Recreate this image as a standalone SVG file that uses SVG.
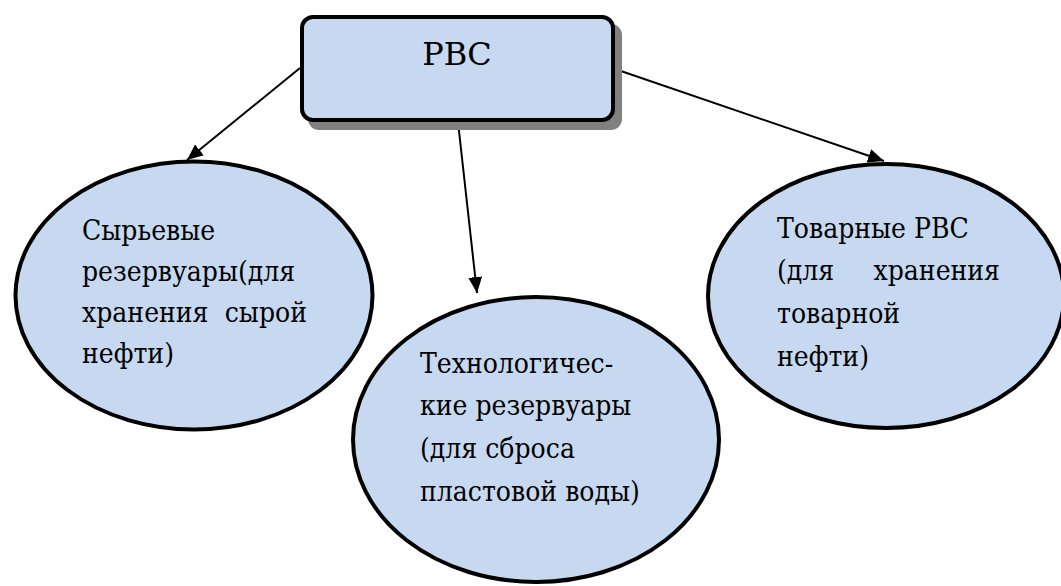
<svg xmlns="http://www.w3.org/2000/svg" width="1061" height="586" viewBox="0 0 1061 586">
<style>
.shape{fill:#C6D9F0;stroke:#000;stroke-width:4}
.conn{stroke:#000;stroke-width:2;fill:none;marker-end:url(#arrow)}
.t{font-family:'DejaVu Serif Condensed','DejaVu Serif',serif;font-stretch:condensed;font-size:28px;fill:#000}
.title{font-family:'DejaVu Serif',serif;font-size:32px;fill:#000}
</style>
<defs>
<marker id="arrow" viewBox="0 0 16 14" refX="16" refY="7" markerWidth="16" markerHeight="14" markerUnits="userSpaceOnUse" orient="auto">
<path d="M0,0 L16,7 L0,14 z" fill="#000"/>
</marker>
</defs>
<rect width="1061" height="586" fill="#fff"/>
<g id="connectors">
<line class="conn" x1="300" y1="68" x2="187" y2="160"/>
<line class="conn" x1="458" y1="122" x2="477" y2="293"/>
<line class="conn" x1="615" y1="69" x2="884" y2="161"/>
</g>
<g id="node-rvs">
<rect x="308" y="24" width="314" height="106" rx="11" fill="#808080"/>
<rect class="shape" x="302" y="17" width="311" height="103" rx="11"/>
<text class="title" x="457" y="65" text-anchor="middle">РВС</text>
</g>
<g id="node-raw">
<ellipse class="shape" cx="194" cy="295.5" rx="178.5" ry="134"/>
<text class="t" x="82" y="240">Сырьевые</text>
<text class="t" x="82" y="281">резервуары(для</text>
<text class="t" x="82" y="322">хранения</text>
<text class="t" x="307" y="322" text-anchor="end">сырой</text>
<text class="t" x="82" y="363">нефти)</text>
</g>
<g id="node-tech">
<ellipse class="shape" cx="536" cy="439.5" rx="183" ry="142.5"/>
<text class="t" x="420" y="373">Технологичес-</text>
<text class="t" x="420" y="415">кие резервуары</text>
<text class="t" x="420" y="458">(для сброса</text>
<text class="t" x="420" y="501">пластовой воды)</text>
</g>
<g id="node-commodity">
<ellipse class="shape" cx="886" cy="296" rx="178" ry="132"/>
<text class="t" x="777" y="238">Товарные РВС</text>
<text class="t" x="777" y="280">(для</text>
<text class="t" x="1000" y="280" text-anchor="end">хранения</text>
<text class="t" x="777" y="323">товарной</text>
<text class="t" x="777" y="366">нефти)</text>
</g>
</svg>
